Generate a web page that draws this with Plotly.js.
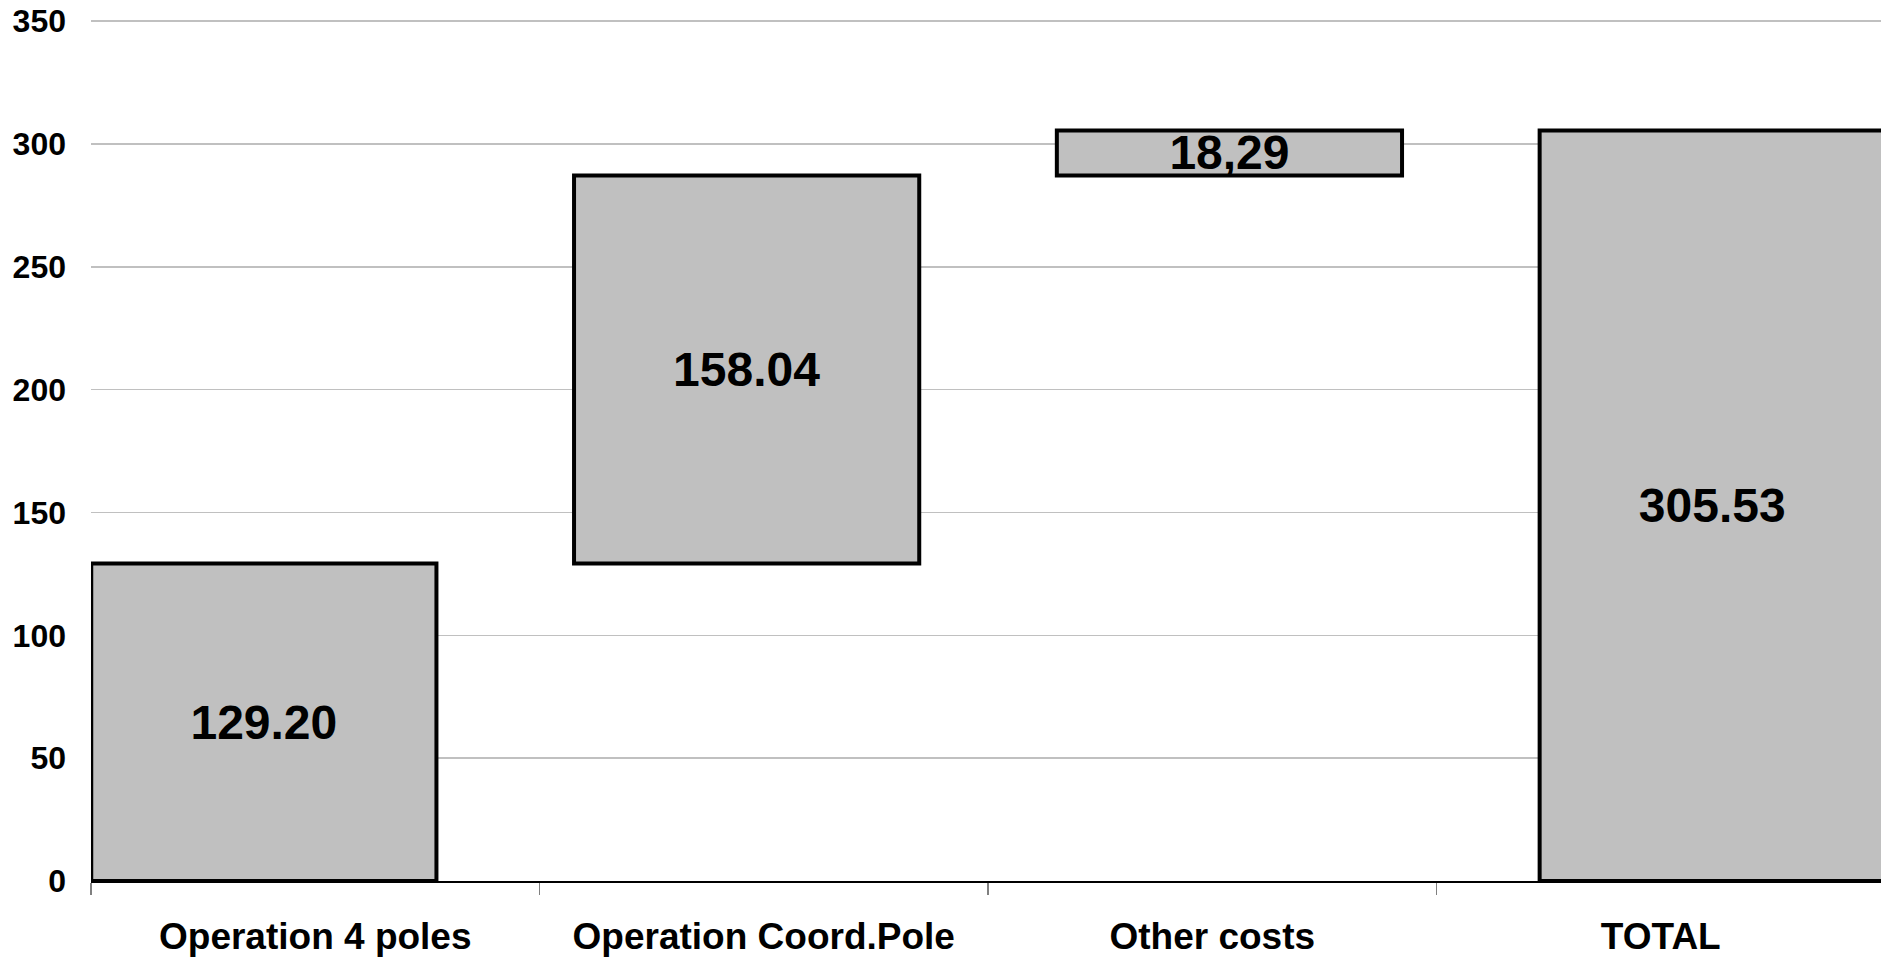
<!DOCTYPE html>
<html>
<head>
<meta charset="utf-8">
<script src="https://cdn.plot.ly/plotly-3.0.1.min.js"></script>
<style>
html,body{margin:0;padding:0;background:#fff;overflow:hidden;}
#chart{width:1881px;height:958px;}
</style>
</head>
<body>
<div id="chart"></div>
<script>
// Data
var categories = ["Operation 4 poles", "Operation Coord.Pole", "Other costs", "TOTAL"];
var values = [129.20, 158.04, 18.29, 0];
var measures = ["relative", "relative", "relative", "total"];
var valueLabels = ["129.20", "158.04", "18,29", "305.53"];
var yTicks = [0, 50, 100, 150, 200, 250, 300, 350];

var FONT = "Liberation Sans, Arial, sans-serif";
var barStyle = {marker: {color: "#c0c0c0", line: {color: "#000000", width: 4}}};

var bars = {
  type: "waterfall",
  x: categories,
  y: values,
  measure: measures,
  xaxis: "x2",
  yaxis: "y",
  text: valueLabels,
  textposition: "inside",
  insidetextanchor: "middle",
  textangle: 0,
  constraintext: "none",
  textfont: {family: FONT, size: 48, color: "#000000", weight: "bold"},
  increasing: barStyle,
  decreasing: barStyle,
  totals: barStyle,
  connector: {visible: false},
  width: 0.715,
  hoverinfo: "skip",
  showlegend: false
};

// carrier for the category label axis (no visible marks)
var labelAxis = {
  type: "scatter",
  mode: "markers",
  x: categories,
  y: categories.map(function(){ return null; }),
  xaxis: "x",
  yaxis: "y",
  hoverinfo: "skip",
  showlegend: false
};

var layout = {
  width: 1881,
  height: 958,
  margin: {l: 91, r: 0, t: 20, b: 77, pad: 0},
  paper_bgcolor: "#ffffff",
  plot_bgcolor: "#ffffff",
  showlegend: false,
  xaxis: {
    type: "category",
    categoryorder: "array",
    categoryarray: categories,
    range: [-0.5, -0.5 + 1790 / 448.5],
    tickson: "boundaries",
    ticks: "outside",
    ticklen: 12,
    tickwidth: 1.5,
    tickcolor: "#808080",
    showline: true,
    linecolor: "#000000",
    linewidth: 1.5,
    showgrid: false,
    zeroline: false,
    ticklabelstandoff: 22,
    tickfont: {family: FONT, size: 37, color: "#000000", weight: "bold"},
    fixedrange: true
  },
  xaxis2: {
    type: "category",
    categoryorder: "array",
    categoryarray: categories,
    overlaying: "x",
    range: [-0.358, -0.358 + 1790 / 482.8],
    visible: false,
    showgrid: false,
    zeroline: false,
    fixedrange: true
  },
  yaxis: {
    range: [0, 350.5],
    tickmode: "array",
    tickvals: yTicks,
    ticktext: yTicks.map(String),
    showgrid: true,
    gridcolor: "#c0c0c0",
    gridwidth: 1.5,
    showline: false,
    zeroline: false,
    ticks: "",
    ticklabelstandoff: 24,
    tickfont: {family: FONT, size: 32, color: "#000000", weight: "bold"},
    fixedrange: true
  }
};

Plotly.newPlot("chart", [labelAxis, bars], layout, {displayModeBar: false, staticPlot: true});
</script>
</body>
</html>
